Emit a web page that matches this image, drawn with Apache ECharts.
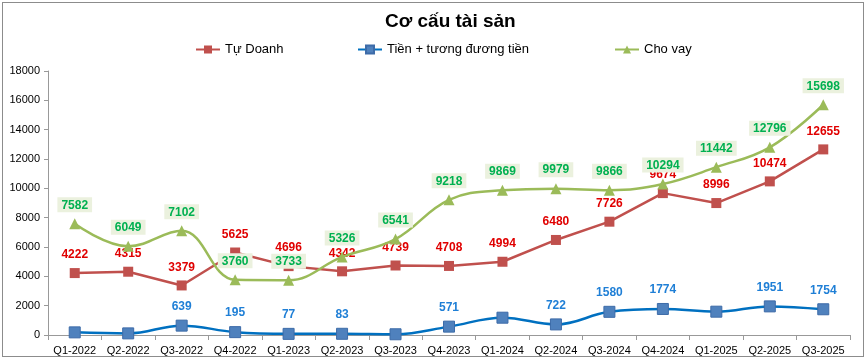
<!DOCTYPE html>
<html>
<head>
<meta charset="utf-8">
<script src="https://cdn.jsdelivr.net/npm/echarts@6/dist/echarts.min.js"></script>
<style>
html,body{margin:0;padding:0;background:#fff;}
#frame{position:absolute;left:2px;top:2px;width:862px;height:355px;border:1px solid #8c8c8c;box-sizing:border-box;}
#chart{position:absolute;left:0;top:0;width:868px;height:361px;}
</style>
</head>
<body>
<div id="frame"></div>
<div id="chart"></div>
<script>
const categories = ['Q1-2022','Q2-2022','Q3-2022','Q4-2022','Q1-2023','Q2-2023','Q3-2023','Q4-2023','Q1-2024','Q2-2024','Q3-2024','Q4-2024','Q1-2025','Q2-2025','Q3-2025'];
const tuDoanh = [4222,4315,3379,5625,4696,4342,4739,4708,4994,6480,7726,9674,8996,10474,12655];
const tien = [180,110,639,195,77,83,50,571,1180,722,1580,1774,1590,1951,1754];
const tienLabelShown = [false,false,true,true,true,true,false,true,false,true,true,true,false,true,true];
const choVay = [7582,6049,7102,3760,3733,5326,6541,9218,9869,9979,9866,10294,11442,12796,15698];

const FONT = '"Liberation Sans", Arial, sans-serif';
const chart = echarts.init(document.getElementById('chart'));
const legendBase = {top:38,itemWidth:24,itemHeight:10,textStyle:{fontSize:13,color:'#000',fontFamily:FONT}};
chart.setOption({
  animation:false,
  textStyle:{fontFamily:FONT},
  title:{text:'Cơ cấu tài sản',left:380,top:7,textStyle:{fontSize:19,fontWeight:'bold',color:'#000',fontFamily:FONT}},
  legend:[
    Object.assign({left:190,data:['Tự Doanh']},legendBase),
    Object.assign({left:352,data:['Tiền + tương đương tiền']},legendBase),
    Object.assign({left:609,data:['Cho vay']},legendBase)
  ],
  grid:{left:48,right:18,top:71,bottom:26,containLabel:false},
  xAxis:{type:'category',data:categories,boundaryGap:true,
    axisLine:{lineStyle:{color:'#999'}},
    axisTick:{show:true,interval:0,length:5,lineStyle:{color:'#999'}},
    axisLabel:{color:'#000',fontSize:11,interval:0,margin:10,fontFamily:FONT}},
  yAxis:{type:'value',min:0,max:18000,interval:2000,
    axisLine:{show:true,lineStyle:{color:'#999'}},
    axisTick:{show:true,length:4,lineStyle:{color:'#999'}},
    splitLine:{show:false},
    axisLabel:{color:'#000',fontSize:11,margin:8,fontFamily:FONT,formatter:v=>String(v)}},
  series:[
    {name:'Tự Doanh',type:'line',data:tuDoanh,smooth:false,z:3,
      symbol:'rect',symbolSize:10,
      lineStyle:{color:'#C0504D',width:2.5},
      itemStyle:{color:'#C0504D'},
      label:{show:true,position:'top',distance:7,color:'#E00000',fontSize:12,fontWeight:'bold',fontFamily:FONT}},
    {name:'Tiền + tương đương tiền',type:'line',smooth:0.4,z:3,
      data:tien.map((v,i)=>({value:v,label:{show:tienLabelShown[i]}})),
      symbol:'rect',symbolSize:11,
      lineStyle:{color:'#0070C0',width:2.5},
      itemStyle:{color:'#4F81BD',borderColor:'#3D6BA8',borderWidth:1},
      label:{show:true,position:'top',distance:7,color:'#1F7FD6',fontSize:12,fontWeight:'bold',fontFamily:FONT}},
    {name:'Cho vay',type:'line',data:choVay,smooth:0.4,z:4,
      symbol:'triangle',symbolSize:11,
      lineStyle:{color:'#9BBB59',width:2.5},
      itemStyle:{color:'#9BBB59'},
      label:{show:true,position:'top',distance:6,color:'#00B050',fontSize:12,fontWeight:'bold',fontFamily:FONT,
        backgroundColor:'#EBF1DE',padding:[2,4,1,4]}}
  ]
});
</script>
</body>
</html>
